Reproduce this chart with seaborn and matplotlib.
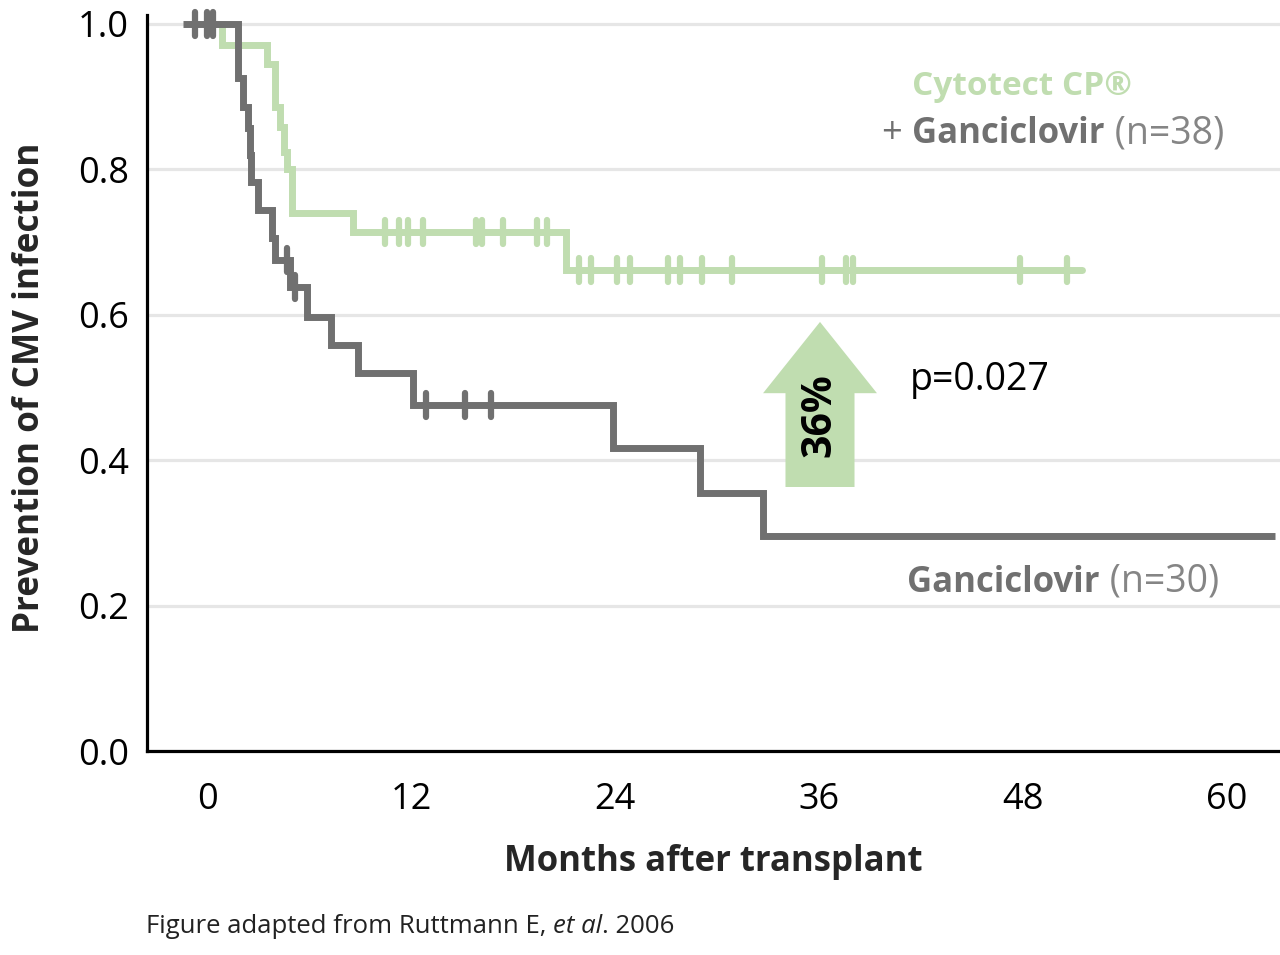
import numpy as np
import pandas as pd
import matplotlib
matplotlib.use('Agg')
import matplotlib.pyplot as plt
from matplotlib.markers import MarkerStyle
from matplotlib.patches import FancyArrow
import seaborn as sns

# Kaplan-Meier steps (months after transplant, fraction free of CMV)
gan_time = [-1.4, 1.8, 2.1, 2.4, 2.5, 2.6, 3.0, 3.8, 4.0, 4.9, 5.9, 7.3, 8.9, 12.1, 23.9, 29.0, 32.7, 62.8]
gan_surv = [1.0, 0.925, 0.886, 0.857, 0.82, 0.783, 0.744, 0.706, 0.675, 0.638, 0.597, 0.558, 0.52, 0.476,
            0.417, 0.355, 0.296, 0.296]
gan_cens = [-0.7, 0.0, 0.35, 4.7, 5.2, 12.9, 15.2, 16.7]

cyt_time = [0.0, 0.9, 3.5, 4.0, 4.3, 4.5, 4.7, 5.0, 8.6, 21.1, 51.5]
cyt_surv = [1.0, 0.971, 0.944, 0.886, 0.858, 0.823, 0.80, 0.74, 0.713, 0.662, 0.662]
cyt_cens = [10.5, 11.3, 11.8, 12.7, 15.8, 16.2, 17.4, 19.4, 20.0, 21.9, 22.6, 24.1, 24.9, 27.1, 27.8,
            29.1, 30.9, 36.2, 37.6, 38.0, 47.8, 50.6]

x_ticks = [0, 12, 24, 36, 48, 60]
y_ticks = [0.0, 0.2, 0.4, 0.6, 0.8, 1.0]

GREEN = '#c0ddb0'
GREY = '#707070'
LIGHTGREY = '#858585'

sns.set_style('white')
plt.rcParams['font.family'] = ['Open Sans', 'DejaVu Sans']


def level_at(times, surv, t):
    '''value of the step curve at time t'''
    idx = np.searchsorted(times, t, side='right') - 1
    return np.asarray(surv)[idx]


gan = pd.DataFrame({'time': gan_time, 'surv': gan_surv})
cyt = pd.DataFrame({'time': cyt_time, 'surv': cyt_surv})

fig = plt.figure(figsize=(12.8, 9.55), dpi=100)
ax = fig.add_axes([147 / 1280, 204 / 955, 1133 / 1280, 736 / 955])

sns.lineplot(data=cyt, x='time', y='surv', ax=ax, color=GREEN, lw=5, drawstyle='steps-post',
             solid_joinstyle='miter', solid_capstyle='round', clip_on=False, zorder=3)
sns.lineplot(data=gan, x='time', y='surv', ax=ax, color=GREY, lw=5, drawstyle='steps-post',
             solid_joinstyle='miter', solid_capstyle='butt', clip_on=False, zorder=4)

tick_marker = MarkerStyle('|', capstyle='round')
ax.plot(cyt_cens, level_at(cyt_time, cyt_surv, cyt_cens), ls='none', marker=tick_marker,
        ms=17, mew=4.5, color=GREEN, clip_on=False, zorder=3)
ax.plot(gan_cens, level_at(gan_time, gan_surv, gan_cens), ls='none', marker=tick_marker,
        ms=17, mew=4.5, color=GREY, clip_on=False, zorder=4)

# 36% arrow
ax.add_patch(FancyArrow(36.06, 0.363, 0, 0.227, width=4.06, head_width=6.7, head_length=0.098,
                        length_includes_head=True, color=GREEN, lw=0, zorder=2))
ax.text(36.06, 0.462, '36%', rotation=90, ha='center', va='center', fontsize=29.5,
        fontweight='bold', color='black', zorder=5)
ax.text(41.35, 0.497, 'p=0.027', fontsize=27, color='black', va='baseline', ha='left')

# curve labels
ax.text(41.5, 0.902, 'Cytotect CP®', fontsize=24, fontweight='bold', color=GREEN, va='baseline')
g1 = ax.text(41.5, 0.836, 'Ganciclovir', fontsize=25, fontweight='bold', color=GREY, va='baseline')
ax.annotate('+ ', xy=(0, 0.836), xycoords=(g1, 'data'), ha='right', va='baseline',
            fontsize=26, color=GREY)
ax.annotate(' (n=38)', xy=(1, 0.836), xycoords=(g1, 'data'), ha='left', va='baseline',
            fontsize=27, color=LIGHTGREY)
g2 = ax.text(41.2, 0.219, 'Ganciclovir', fontsize=25, fontweight='bold', color=GREY, va='baseline')
ax.annotate(' (n=30)', xy=(1, 0.219), xycoords=(g2, 'data'), ha='left', va='baseline',
            fontsize=27, color=LIGHTGREY)

ax.set_xlim(-3.53, 63.12)
ax.set_ylim(0, 1.012)
ax.set_xticks(x_ticks)
ax.set_xticklabels([str(t) for t in x_ticks])
ax.set_yticks(y_ticks)
ax.set_yticklabels(['%.1f' % v for v in y_ticks])
ax.tick_params(axis='x', length=14, width=1.8, direction='out', pad=8, labelsize=26, colors='black')
ax.tick_params(axis='y', length=0, pad=13, labelsize=26, colors='black')
ax.grid(axis='y', color='#e6e6e6', lw=2.3)
ax.grid(axis='x', visible=False)
ax.set_axisbelow(True)
for side in ['top', 'right']:
    ax.spines[side].set_visible(False)
for side in ['left', 'bottom']:
    ax.spines[side].set_color('black')
    ax.spines[side].set_linewidth(2.3)
ax.set_xlabel('')
ax.set_ylabel('')

fig.text(713 / 1280, 1 - 862 / 955, 'Months after transplant', fontsize=25, fontweight='bold',
         ha='center', va='center')
fig.text(30 / 1280, 1 - 388 / 955, 'Prevention of CMV infection', fontsize=25.3, fontweight='bold',
         rotation=90, ha='center', va='center')

# source line
f1 = fig.text(146 / 1280, 1 - 933 / 955, 'Figure adapted from Ruttmann E, ', fontsize=18.5,
              color='#222222', va='baseline')
f2 = ax.annotate('et al', xy=(1, 1 - 933 / 955), xycoords=(f1, 'figure fraction'), fontsize=18.5,
                 style='italic', color='#222222', va='baseline', annotation_clip=False)
ax.annotate('. 2006', xy=(1, 1 - 933 / 955), xycoords=(f2, 'figure fraction'), fontsize=18.5,
            color='#222222', va='baseline', annotation_clip=False)

fig.savefig('out.png', dpi=100)
